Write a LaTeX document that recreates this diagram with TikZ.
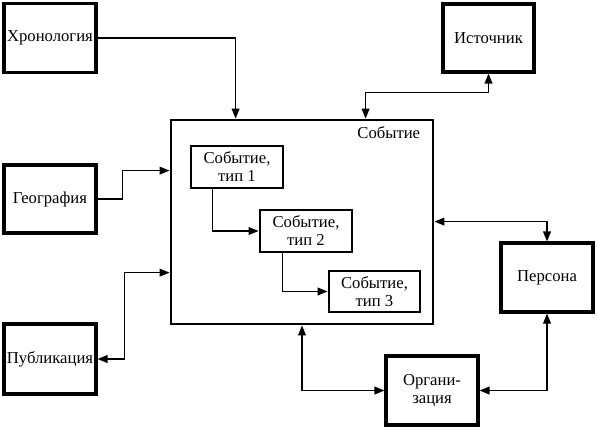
\documentclass[tikz,border=0pt]{standalone}
\usepackage{fontspec}
\setmainfont{Liberation Serif}
\usetikzlibrary{arrows.meta,calc}
\tikzset{
  box/.style={draw, line width=2.3pt, minimum width=69pt, minimum height=51.75pt, inner sep=0pt, align=center, font=\fontsize{12.5}{14}\selectfont},
  subbox/.style={draw, line width=2.1pt, minimum width=69pt, minimum height=31.5pt, inner sep=0pt, align=center, font=\fontsize{12.5}{13.5}\selectfont},
  conn/.style={line width=1.1pt, >={Triangle[length=7.5pt,width=5.8pt]}},
}
\begin{document}
\begin{tikzpicture}[x=0.75pt,y=-0.75pt]
\useasboundingbox (0,0) rectangle (598,430);
\node[draw, line width=2.1pt, minimum width=196.5pt, minimum height=153pt, inner sep=0pt] (main) at (302,222) {};
\node[anchor=north east, inner sep=0pt, font=\fontsize{12.5}{14}\selectfont] (mlabel) at ($(main.north east)+(-14,8)$) {Событие};
\node[box] (chron) at (50,38) {Хронология};
\node[box, minimum height=51pt] (geo) at (50,199) {География};
\node[box, minimum height=52.5pt] (pub) at (50,359) {Публикация};
\node[box, minimum width=68.25pt, minimum height=51pt] (src) at (488.5,38) {Источник};
\node[box] (pers) at (547,277.5) {Персона};
\node[box] (org) at (432,390.5) {Органи-\\зация};
\node[subbox] (t1) at (237,167) {Событие,\\ тип 1};
\node[subbox] (t2) at (306,231) {Событие,\\ тип 2};
\node[subbox, minimum width=68.25pt, minimum height=30.75pt] (t3) at (374.5,291.5) {Событие,\\ тип 3};
\draw[conn,->] (chron.east) -| ($(main.north west)+(66,0)$);
\draw[conn,->] (geo.east) -- ++(25,0) |- ($(main.north west)+(0,52)$);
\draw[conn,<->] (pub.east) -- ++(27,0) |- ($(main.north west)+(0,154)$);
\draw[conn,<->] (src.south) -- ++(0,19) -| ($(main.north west)+(196,0)$);
\draw[conn,<->] ($(main.north east)+(0,103)$) -| (pers.north);
\draw[conn,<->] (main.south) |- (org.west);
\draw[conn,<->] (pers.south) |- (org.east);
\draw[conn,->] ($(t1.south west)+(23,0)$) |- (t2.west);
\draw[conn,->] ($(t2.south west)+(24,0)$) |- (t3.west);
\end{tikzpicture}
\end{document}
